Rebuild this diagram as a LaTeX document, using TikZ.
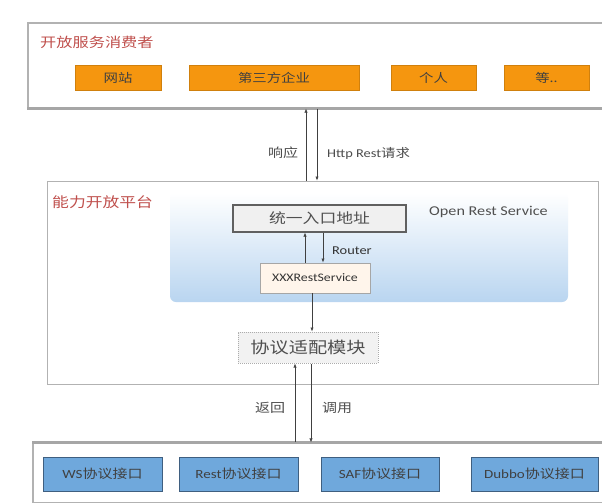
\documentclass[tikz,border=0pt]{standalone}
\usepackage{fontspec}
\setmainfont[FakeStretch=1.2]{Carlito}
\newfontfamily\cjk[FakeStretch=1.2]{Noto Sans CJK SC}
\usetikzlibrary{arrows.meta,calc}

\definecolor{titlered}{HTML}{C0504D}
\definecolor{consumerorange}{HTML}{F5960F}
\definecolor{ifaceblue}{HTML}{6FA8DC}
\definecolor{ifaceborder}{HTML}{3F5F80}
\definecolor{panelblue}{HTML}{B9D5F0}
\definecolor{labelgray}{HTML}{505050}

\begin{document}
\begin{tikzpicture}[x=1pt,y=-1pt,
  frame/.style={draw=gray!60, line width=1.1pt, fill=white, inner sep=0pt},
  shadowline/.style={draw=gray!70, line width=2.2pt},
  grouptitle/.style={text=titlered, font=\cjk\fontsize{13.5}{15}\selectfont, anchor=west, inner sep=0pt},
  consumer/.style={fill=consumerorange, draw=consumerorange!85!black, line width=0.4pt,
    minimum height=25, inner sep=0pt, text=black!75, font=\cjk\fontsize{12}{14}\selectfont},
  iface/.style={fill=ifaceblue, draw=ifaceborder, line width=0.9pt, minimum height=34,
    inner sep=0pt, text=black!75, font=\fontsize{12.5}{14}\selectfont},
  entry/.style={fill=gray!12, draw=gray!75!black, line width=1.1pt, minimum width=173,
    minimum height=27, inner sep=0pt, text=labelgray, font=\cjk\fontsize{14}{16}\selectfont},
  service/.style={fill=white!92!orange, draw=gray!70, line width=0.9pt, minimum width=110,
    minimum height=30, inner sep=0pt, text=black!80, font=\fontsize{11.5}{13}\selectfont},
  adapter/.style={fill=gray!10, draw=gray!65, densely dotted, line width=1pt, minimum width=140,
    minimum height=31, inner sep=0pt, text=labelgray, font=\cjk\fontsize{16}{18}\selectfont},
  arr/.style={draw=black!75, line width=0.6pt, -{Latex[length=4pt,width=3.2pt]}},
  lbl/.style={text=black!70, inner sep=0pt, font=\fontsize{12}{14}\selectfont},
]
\useasboundingbox (0,0) rectangle (602,503);

% ---- consumers ----
\node[frame, minimum width=576, minimum height=85] (consumers) at (316,65.5) {};
\draw[shadowline] (consumers.south west) -- (consumers.south east);
\node[grouptitle] (ctitle) at (40,42) {开放服务消费者};
\node[consumer, minimum width=86]  (web)   at (118,77.5)   {网站};
\node[consumer, minimum width=170] (third) at (274,77.5)   {第三方企业};
\node[consumer, minimum width=85]  (person) at (433.5,77.5) {个人};
\node[consumer, minimum width=85]  (etc)   at (546.5,77.5) {等..};

% ---- platform ----
\node[frame, line width=0.8pt, minimum width=551, minimum height=203] (platform) at (322.5,282.5) {};
\node[grouptitle, font=\cjk\fontsize{14}{16}\selectfont] (ptitle) at (52,202) {能力开放平台};
\node[rounded corners=6pt, minimum width=398, minimum height=109, inner sep=0pt,
      shading=axis, top color=white, bottom color=panelblue] (panel) at (369,247.5) {};
\node[text=labelgray, anchor=west, inner sep=0pt, font=\fontsize{13.5}{15}\selectfont] (ors) at (429,212) {Open Rest Service};
\node[entry]   (entry)   at (319.5,218.5) {统一入口地址};
\node[service] (service) at (315,278)     {XXXRestService};
\node[adapter] (adapter) at (308,347.5)   {协议适配模块};

% ---- protocol interfaces ----
\node[frame, minimum width=571, minimum height=60] (ifaces) at (318.5,473) {};
\draw[shadowline] (ifaces.north west) -- (ifaces.north east);
\node[iface, minimum width=119] (ws)    at (102.5,474) {WS{\cjk 协议接口}};
\node[iface, minimum width=119] (rest)  at (238.5,474) {Rest{\cjk 协议接口}};
\node[iface, minimum width=118] (saf)   at (380,474)   {SAF{\cjk 协议接口}};
\node[iface, minimum width=127] (dubbo) at (534.5,474) {Dubbo{\cjk 协议接口}};

% ---- connector columns ----
\coordinate (respx) at (306,0);
\coordinate (reqx)  at (317,0);
\coordinate (upx)   at (305,0);
\coordinate (routx) at (323,0);
\coordinate (downx) at (312,0);
\coordinate (retx)  at (295,0);
\coordinate (callx) at (311,0);

\draw[arr] (platform.north -| respx) -- (consumers.south -| respx);
\draw[arr] (consumers.south -| reqx) -- (platform.north -| reqx);
\draw[arr] (service.north -| upx) -- (entry.south -| upx);
\draw[arr] (entry.south -| routx) -- (service.north -| routx);
\draw[arr] (service.south -| downx) -- (adapter.north -| downx);
\draw[arr] (ifaces.north -| retx) -- (adapter.south -| retx);
\draw[arr] (adapter.south -| callx) -- (ifaces.north -| callx);

% ---- connector labels ----
\node[lbl, font=\cjk\fontsize{12.5}{14}\selectfont] (resp) at (283,153) {响应};
\node[lbl, anchor=west] (req) at (327,153) {Http Rest{\cjk 请求}};
\node[lbl, anchor=west, text=black!80] (router) at (332,251) {Router};
\node[lbl, font=\cjk\fontsize{12.5}{14}\selectfont] (ret) at (270,408) {返回};
\node[lbl, font=\cjk\fontsize{12.5}{14}\selectfont] (call) at (337,408) {调用};
\end{tikzpicture}
\end{document}
